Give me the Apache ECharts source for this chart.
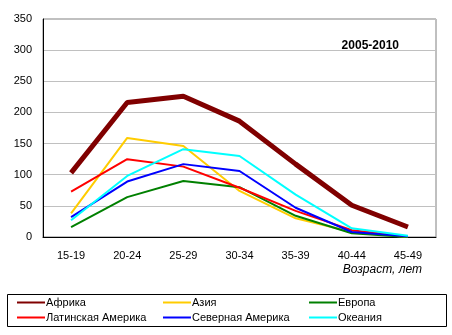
<!DOCTYPE html>
<html><head><meta charset="utf-8">
<script src="https://cdn.jsdelivr.net/npm/echarts@6/dist/echarts.min.js"></script>
<style>html,body{margin:0;padding:0;background:#fff}#c{width:452px;height:335px}</style>
</head><body><div id="c"></div>
<script>
const categories = ['15-19','20-24','25-29','30-34','35-39','40-44','45-49'];
const africa = [103, 216, 226, 186, 117, 51, 16];
const asia = [38, 159, 146, 74, 30, 8, 0];
const europe = [16, 64, 90, 80, 34, 6, 0];
const latinAmerica = [73, 125, 113, 79, 42, 11, 1];
const northAmerica = [32, 89, 117, 106, 47, 8, 1];
const oceania = [27, 98, 141, 130, 68, 14, 2];
const names = ['Африка','Азия','Европа','Латинская Америка','Северная Америка','Океания'];
const title = '2005-2010';
const xName = 'Возраст, лет';

const font = 'Arial, "Liberation Sans", sans-serif';
const colors = ['#800000','#ffcc00','#008000','#ff0000','#0000ff','#00ffff'];
const datas = [africa, asia, europe, latinAmerica, northAmerica, oceania];
const series = names.map((n,i)=>({
  name: n, type: 'line', data: datas[i], symbol: 'none', z: i===0?5:2,
  color: colors[i],
  lineStyle: {color: colors[i], width: i===0?5:2}, itemStyle:{color: colors[i]}
}));
const legendCommon = {
  orient: 'vertical', itemWidth: 28, itemHeight: 10, itemGap: 4,
  itemStyle: {opacity: 0},
  textStyle: {fontFamily: font, fontSize: 11, color: '#000', padding:[0,0,0,-4]},
  padding: 0
};
const chart = echarts.init(document.getElementById('c'));
chart.setOption({
  animation: false,
  textStyle: {fontFamily: font},
  grid: {left: 43, right: 16, top: 19, bottom: 98, show: true, borderColor: '#808080', borderWidth: 1},
  title: {text: title, right: 48, top: 35, textStyle: {fontFamily: font, fontSize: 12, fontWeight: 'bold', color: '#000'}},
  xAxis: {
    type: 'category', data: categories, boundaryGap: true,
    name: xName, nameLocation: 'end', nameGap: 0,
    nameTextStyle: {fontFamily: font, fontSize: 12, fontStyle: 'italic', color: '#000', align: 'right', verticalAlign: 'top', padding: [27, 14, 0, 0]},
    axisLine: {lineStyle: {color: '#000', width: 1}},
    axisTick: {show: false},
    axisLabel: {color: '#000', fontSize: 11, fontFamily: font, margin: 13}
  },
  yAxis: {
    type: 'value', min: 0, max: 350, interval: 50,
    axisLine: {show: true, lineStyle: {color: '#000', width: 1}},
    axisTick: {show: false},
    splitLine: {lineStyle: {color: '#c0c0c0', width: 1}},
    axisLabel: {color: '#000', fontSize: 11, fontFamily: font, margin: 11}
  },
  legend: [
    Object.assign({left: 16, top: 297, data: [names[0], names[3]]}, legendCommon),
    Object.assign({left: 162, top: 297, data: [names[1], names[4]]}, legendCommon),
    Object.assign({left: 308, top: 297, data: [names[2], names[5]]}, legendCommon)
  ],
  graphic: [{type: 'rect', shape: {x: 7.5, y: 294.5, width: 439, height: 32}, style: {fill: 'none', stroke: '#000', lineWidth: 1}, silent: true}],
  series: series
});
</script></body></html>
